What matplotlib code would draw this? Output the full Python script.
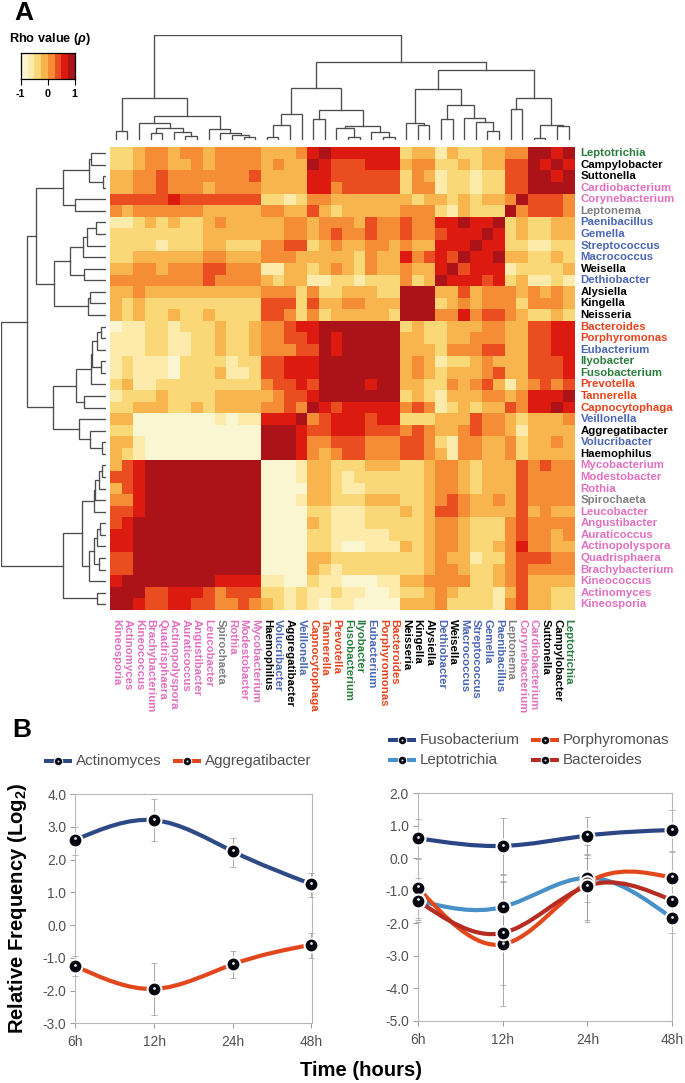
import numpy as np
import matplotlib
matplotlib.use("Agg")
import matplotlib.pyplot as plt
from matplotlib.colors import ListedColormap, BoundaryNorm
from matplotlib.path import Path
from matplotlib.patches import PathPatch

plt.rcParams['font.family'] = ['Liberation Sans', 'DejaVu Sans']
plt.rcParams['mathtext.fontset'] = 'custom'
plt.rcParams['mathtext.bf'] = 'Liberation Sans:bold'
plt.rcParams['mathtext.rm'] = 'Liberation Sans'
plt.rcParams['mathtext.it'] = 'Liberation Sans:italic:bold'

W, H = 685, 1083

# column order, left to right. the rows are the same list read bottom to top
genera = ['Kineosporia', 'Actinomyces', 'Kineococcus', 'Brachybacterium', 'Quadrisphaera',
          'Actinopolyspora', 'Auraticoccus', 'Angustibacter', 'Leucobacter', 'Spirochaeta',
          'Rothia', 'Modestobacter', 'Mycobacterium', 'Haemophilus', 'Volucribacter',
          'Aggregatibacter', 'Veillonella', 'Capnocytophaga', 'Tannerella', 'Prevotella',
          'Fusobacterium', 'Ilyobacter', 'Eubacterium', 'Porphyromonas', 'Bacteroides',
          'Neisseria', 'Kingella', 'Alysiella', 'Dethiobacter', 'Weisella', 'Macrococcus',
          'Streptococcus', 'Gemella', 'Paenibacillus', 'Leptonema', 'Corynebacterium',
          'Cardiobacterium', 'Suttonella', 'Campylobacter', 'Leptotrichia']

pink = '#E36FC0'
grey = '#7F7F7F'
black = '#000000'
blue = '#4A66B5'
red = '#E8431C'
green = '#2A7D3C'
genus_colors = [pink, pink, pink, pink, pink, pink, pink, pink, pink, grey,
                pink, pink, pink, black, blue, black, blue, red, red, red,
                green, green, blue, red, red, black, black, black, blue, black,
                blue, blue, blue, blue, grey, pink, pink, black, black, green]

# binned rho, one digit per cell (0 = -1 ... 7 = +1), top row first
rho_bins = [
    "2 2 3 4 4 3 4 4 3 4 4 4 4 3 3 3 4 6 7 6 6 6 6 6 6 2 3 3 1 3 2 2 3 3 4 4 7 7 6 7",
    "2 2 3 4 4 3 3 4 3 4 4 4 4 3 4 3 3 7 6 5 5 5 6 6 6 3 4 4 2 2 3 2 3 3 5 5 7 6 7 6",
    "3 3 4 4 5 4 4 4 4 4 4 4 5 3 3 3 3 6 6 5 5 5 5 5 5 2 4 3 1 2 2 1 2 2 5 5 7 7 6 7",
    "3 3 4 4 5 4 4 4 3 4 4 4 4 3 3 3 3 6 6 4 5 5 5 5 5 2 4 4 1 2 2 1 2 2 5 5 7 7 7 7",
    "5 5 5 5 5 6 5 5 5 5 5 5 5 2 2 1 2 4 4 3 3 3 3 3 3 3 2 3 3 2 3 2 3 3 4 7 5 5 5 4",
    "4 3 4 4 4 4 4 4 3 3 3 3 3 4 4 3 3 5 3 2 3 3 3 3 3 4 4 4 2 1 3 2 2 2 7 4 5 5 5 4",
    "1 1 2 3 2 3 2 2 3 4 3 3 3 3 3 4 4 3 4 4 4 3 5 4 4 5 4 4 6 6 7 6 6 7 2 3 2 2 3 3",
    "2 2 2 2 2 2 2 2 3 3 3 3 3 3 3 4 4 3 4 5 4 4 5 4 4 5 4 4 5 6 6 6 7 6 2 3 2 2 3 3",
    "2 2 2 2 1 2 2 2 3 3 2 2 2 4 4 5 5 2 3 4 3 3 4 4 3 4 3 3 6 6 6 7 6 6 2 2 1 1 2 2",
    "2 2 3 3 3 3 3 3 4 4 3 3 3 4 4 4 3 3 3 3 3 2 4 3 3 6 4 5 6 5 7 6 6 7 3 3 2 2 3 2",
    "3 3 4 4 3 4 4 4 5 5 4 4 4 1 1 3 3 2 3 4 3 2 4 3 3 4 3 3 6 7 5 6 6 6 1 2 2 2 2 3",
    "4 4 4 4 4 4 4 4 5 4 4 4 4 3 2 3 3 1 1 2 2 1 2 2 2 4 2 3 7 6 6 6 5 6 2 3 1 1 2 1",
    "3 3 4 3 3 3 3 3 3 3 3 3 3 4 4 4 2 4 2 2 3 3 3 2 2 7 7 7 3 3 5 3 4 4 4 3 4 3 4 3",
    "3 2 3 2 2 2 2 2 2 2 2 2 2 5 5 5 2 5 3 3 4 4 3 3 3 7 7 7 2 3 4 3 4 4 4 2 4 4 4 3",
    "3 2 3 2 2 3 2 2 3 2 2 2 2 5 5 4 2 4 2 3 3 3 3 3 2 7 7 7 4 4 6 4 5 5 4 3 2 2 3 2",
    "0 1 1 2 2 1 2 2 2 3 2 2 3 4 4 5 6 6 7 7 7 7 7 7 7 2 3 2 2 3 3 3 4 4 3 3 5 5 6 6",
    "1 1 1 2 2 1 1 2 2 3 2 2 3 4 4 5 5 6 7 6 7 7 7 7 7 3 3 2 2 3 3 4 4 4 3 3 5 5 6 6",
    "1 1 1 2 2 1 1 2 2 3 2 2 3 4 4 4 5 5 7 6 7 7 7 7 7 3 3 3 2 4 4 4 5 5 3 3 5 5 6 6",
    "1 2 1 1 1 0 2 2 2 2 1 2 2 5 5 6 6 6 7 7 7 7 7 7 7 3 4 3 1 2 2 3 4 3 3 3 5 5 5 6",
    "1 2 1 1 1 0 2 2 2 3 1 1 2 5 5 6 6 6 7 7 7 7 7 7 7 3 4 3 2 3 3 3 4 5 3 3 5 5 5 6",
    "2 3 1 1 2 2 2 2 2 2 2 2 2 4 5 5 6 5 7 7 7 7 6 7 7 3 3 2 2 4 3 4 5 3 1 3 4 5 4 5",
    "1 2 2 2 3 2 2 2 2 3 3 3 3 3 4 5 5 6 7 7 7 7 7 7 7 2 3 2 1 3 3 3 4 4 3 4 6 6 6 7",
    "2 2 3 3 3 2 2 3 2 3 3 3 3 4 4 5 4 7 6 5 6 6 6 6 6 4 5 4 1 2 3 2 3 3 5 4 6 6 7 6",
    "3 3 0 0 0 0 0 0 0 1 0 1 1 6 6 6 7 4 5 6 6 6 5 6 6 2 2 2 3 3 3 5 4 4 3 2 3 3 3 4",
    "2 2 0 0 0 0 0 0 0 0 0 0 0 7 7 7 6 5 5 6 6 6 5 5 5 4 5 4 3 3 4 5 4 4 3 1 3 3 3 3",
    "3 3 1 0 0 0 0 0 0 0 0 0 0 7 7 7 6 4 4 5 5 5 4 4 4 5 5 4 2 1 4 4 3 3 4 2 3 3 4 3",
    "3 2 1 0 0 0 0 0 0 0 0 0 0 7 7 7 6 4 3 4 5 5 4 4 4 5 5 4 3 1 4 4 3 3 4 2 3 3 3 3",
    "3 5 6 7 7 7 7 7 7 7 7 7 7 0 0 0 1 3 3 2 2 2 3 3 3 2 2 3 4 4 3 2 3 3 3 5 4 5 4 4",
    "5 5 6 7 7 7 7 7 7 7 7 7 7 0 0 0 1 3 3 2 1 2 2 2 2 2 2 3 4 4 3 2 3 3 3 5 4 4 4 4",
    "3 5 6 7 7 7 7 7 7 7 7 7 7 0 0 0 0 3 3 2 1 1 2 2 2 2 2 3 4 4 3 2 3 3 3 5 4 4 4 4",
    "4 4 6 7 7 7 7 7 7 7 7 7 7 0 0 0 1 3 3 2 2 2 3 3 3 2 2 3 4 5 4 3 3 4 3 5 4 4 4 4",
    "5 5 6 7 7 7 7 7 7 7 7 7 7 0 0 0 0 2 2 1 1 1 2 2 2 3 2 3 5 5 4 3 3 3 3 5 3 4 3 3",
    "5 6 7 7 7 7 7 7 7 7 7 7 7 0 0 0 0 3 2 1 1 1 2 2 2 2 2 3 4 4 3 2 2 2 4 5 4 4 4 4",
    "6 6 7 7 7 7 7 7 7 7 7 7 7 0 0 0 0 2 2 1 1 1 1 1 2 2 2 3 4 4 3 2 2 2 4 5 4 4 3 4",
    "6 6 7 7 7 7 7 7 7 7 7 7 7 0 0 0 0 2 2 1 0 0 1 1 1 3 2 3 4 4 3 2 2 3 4 6 4 4 3 3",
    "5 5 7 7 7 7 7 7 7 7 7 7 7 0 0 0 0 3 3 2 2 2 2 2 2 2 2 3 4 3 3 1 2 2 4 5 5 5 4 4",
    "5 5 7 7 7 7 7 7 7 7 7 7 7 0 0 0 0 3 2 1 2 2 2 2 2 2 2 3 4 4 3 2 2 3 4 5 4 4 4 4",
    "6 7 7 7 7 7 7 7 7 6 6 6 6 1 1 0 0 2 1 1 0 0 0 1 1 3 3 4 4 4 4 2 2 3 4 5 3 3 3 3",
    "7 7 7 5 5 6 6 6 5 4 5 5 5 2 2 1 2 1 1 2 1 1 0 0 1 2 2 3 4 3 2 2 2 1 3 5 3 3 2 2",
    "7 7 6 5 5 6 6 5 5 4 4 5 4 3 2 1 2 1 0 1 1 0 0 0 0 3 3 3 4 2 2 2 2 1 4 5 3 3 2 2",
]
bin_colors = ['#FBF6D2', '#FDEBAC', '#FAD878', '#F8B54E', '#F48D36', '#EA4E20', '#DC1A10', '#AB1319']

# dendrograms: (merge distance, left, right), leaves are column / row numbers
col_tree = (105,
            (42, (9, 0, 1),
             (24, (17, 2, (12, (7, 3, 4), (8, 5, (4, 6, 7)))),
              (11, 8, (7, 9, (5, 10, (3, 11, 12)))))),
            (78,
             (52, (26, (15, (3, 13, 14), 15), 16),
              (30, (21, 17, 18),
               (14, (12, 19, (3, 20, 21)), (8, 22, (3, 23, 24))))),
             (70,
              (51, (17, 25, (15, 26, 27)),
               (35, (21, 28, 29), (22, 30, (18, 31, (9, 32, 33))))),
              (42, (31, 34, 35), (15, (2, 36, 37), (14, 38, 39))))))
row_tree = (105,
            (79,
             (70,
              (43, (17, (15, 0, 1), (3, 2, 3)), (31, 4, 5)),
              (52, (36, (23, (19, (10, 6, 7), 8), 9), (22, 10, 11)),
               (18, (16, 12, 13), 14))),
             (53,
              (30, (15, (14, (9, (5, 15, 16), 17), (5, 18, 19)), 20), (22, 21, 22)),
              (27, 23, (16, 24, (4, 25, 26))))),
            (43,
             (24,
              (12, (11, (7, (4, 27, 28), 29), 30), 31),
              (17, (12, (9, (6, 32, 33), 34), (7, 35, 36)), 37)),
             (9, 38, 39)))

# panel B
hours = ['6h', '12h', '24h', '48h']

actinomyces = [2.6, 3.2, 2.25, 1.25]
actinomyces_low = [2.15, 2.55, 1.78, 0.85]
actinomyces_high = [3.0, 3.85, 2.65, 1.6]
aggregatibacter = [-1.25, -1.95, -1.2, -0.6]
aggregatibacter_low = [-1.55, -2.75, -1.62, -1.0]
aggregatibacter_high = [-0.95, -1.15, -0.78, -0.25]

fusobacterium = [0.62, 0.38, 0.7, 0.87]
fusobacterium_low = [-0.02, -0.48, 0.12, 0.22]
fusobacterium_high = [1.22, 1.25, 1.28, 1.48]
porphyromonas = [-0.9, -2.65, -0.75, -0.6]
porphyromonas_low = [-1.9, -4.55, -1.9, -1.3]
porphyromonas_high = [0.02, -0.72, 0.4, 0.18]
leptotrichia = [-1.3, -1.5, -0.6, -1.85]
leptotrichia_low = [-1.85, -2.5, -1.35, -2.3]
leptotrichia_high = [-0.6, -0.5, 0.1, -1.4]
bacteroides = [-1.3, -2.3, -0.85, -1.3]
bacteroides_low = [-1.95, -3.9, -1.95, -2.0]
bacteroides_high = [-0.7, -0.7, 0.0, -0.6]


def axes_px(fig, x0, y0, x1, y1):
    return fig.add_axes([x0 / W, 1 - y1 / H, (x1 - x0) / W, (y1 - y0) / H])


def draw_tree(ax, node, vertical):
    # returns leaf-axis position and distance of the node
    if not isinstance(node, tuple):
        return node + 0.5, 0
    d, left, right = node
    pa, da = draw_tree(ax, left, vertical)
    pb, db = draw_tree(ax, right, vertical)
    if vertical:
        ax.plot([pa, pa, pb, pb], [da, d, d, db], color='#4D4D4D', lw=0.95, solid_joinstyle='miter')
    else:
        ax.plot([da, d, d, db], [pa, pa, pb, pb], color='#4D4D4D', lw=0.95, solid_joinstyle='miter')
    return (pa + pb) / 2, d


def smooth_path(y):
    # natural spline through the points, written as bezier segments
    n = len(y)
    A = np.zeros((n, n))
    b = np.zeros(n)
    A[0, 0] = A[-1, -1] = 1
    for i in range(1, n - 1):
        A[i, i - 1], A[i, i], A[i, i + 1] = 1, 4, 1
        b[i] = 6 * (y[i - 1] - 2 * y[i] + y[i + 1])
    M = np.linalg.solve(A, b)
    slope = [y[i + 1] - y[i] - (2 * M[i] + M[i + 1]) / 6 for i in range(n - 1)]
    slope.append(y[-1] - y[-2] + (M[-2] + 2 * M[-1]) / 6)
    verts = [(0, y[0])]
    codes = [Path.MOVETO]
    for i in range(n - 1):
        verts.append((i + 1 / 3, y[i] + slope[i] / 3))
        verts.append((i + 2 / 3, y[i + 1] - slope[i + 1] / 3))
        verts.append((i + 1, y[i + 1]))
        codes += [Path.CURVE4, Path.CURVE4, Path.CURVE4]
    return Path(verts, codes)


def draw_bullet(ax, x, y, z, size=10):
    ax.plot(x, y, 'o', ms=size, mfc='#050510', mec='white', mew=1.5, clip_on=False, zorder=z)
    ax.plot(x, np.array(y) + (ax.get_ylim()[1] - ax.get_ylim()[0]) * 0.006, 'o', ms=size * 0.2, mfc='#E8E8E8',
            mec='none', clip_on=False, zorder=z + 0.01)


def draw_series(ax, y, low, high, color, z):
    x = np.arange(len(y))
    y = np.array(y)
    ax.errorbar(x, y, yerr=[y - np.array(low), np.array(high) - y], fmt='none', ecolor='#9A9A9A',
                elinewidth=0.6, capsize=2.4, capthick=0.5, clip_on=False, zorder=2)
    ax.add_patch(PathPatch(smooth_path(y), fc='none', ec=color, lw=3.0, capstyle='butt', zorder=3))
    draw_bullet(ax, x, y, z)


def style_panel(ax, ymin, ymax):
    ax.set_xlim(0, 3)
    ax.set_ylim(ymin, ymax)
    ticks = np.arange(ymin, ymax + 1)
    ax.set_yticks(ticks)
    ax.set_yticklabels(['%.1f' % t for t in ticks])
    ax.set_xticks(range(4))
    ax.set_xticklabels(hours)
    ax.tick_params(labelsize=9.9, labelcolor='#505050', color='#999999', length=3.5, width=0.7, pad=3)
    ax.tick_params(axis='x', pad=5)
    for s in ax.spines.values():
        s.set_color('#B8B8B8')
        s.set_linewidth(0.8)


def legend_item(bg, x, y, label, color):
    bg.plot([x, x + 28], [y, y], color=color, lw=2.9, solid_capstyle='butt')
    bg.plot(x + 14, y, 'o', ms=6.8, mfc='white', mec='none')
    bg.plot(x + 14, y, 'o', ms=5.4, mfc='#0A0A14', mec='none')
    bg.plot(x + 14, y, 'o', ms=1.4, mfc='#E0E0E0', mec='none')
    bg.text(x + 32, y + 0.3, label, fontsize=10.9, color='#505050', va='center', ha='left')


fig = plt.figure(figsize=(W / 100, H / 100), dpi=100)

# page level text and legends in pixel coordinates
bg = fig.add_axes([0, 0, 1, 1])
bg.set_xlim(0, W)
bg.set_ylim(H, 0)
bg.axis('off')

# heatmap
hm_x0, hm_x1, hm_y0, hm_y1 = 110, 574.5, 147.3, 610
ax_hm = axes_px(fig, hm_x0, hm_y0, hm_x1, hm_y1)
rho = np.array([[int(v) for v in row.split()] for row in rho_bins])
cmap = ListedColormap(bin_colors)
norm = BoundaryNorm(np.arange(-0.5, 8.5), 8)
ax_hm.pcolormesh(np.arange(41), np.arange(41), rho, cmap=cmap, norm=norm)
ax_hm.set_xlim(0, 40)
ax_hm.set_ylim(40, 0)
ax_hm.axis('off')

# genus labels
cell_w = (hm_x1 - hm_x0) / 40
cell_h = (hm_y1 - hm_y0) / 40
for i, (name, c) in enumerate(zip(genera, genus_colors)):
    bg.text(hm_x0 + cell_w * (i + 0.5), 619, name, rotation=270, color=c, fontsize=8.2,
            fontweight='bold', ha='center', va='top')
    bg.text(580.5, hm_y0 + cell_h * (39 - i + 0.5), name, color=c, fontsize=8.2,
            fontweight='bold', ha='left', va='center')

# dendrograms
ax_top = axes_px(fig, hm_x0, 35, hm_x1, 140)
draw_tree(ax_top, col_tree, True)
ax_top.set_xlim(0, 40)
ax_top.set_ylim(0, 105)
ax_top.axis('off')

ax_left = axes_px(fig, 1, hm_y0, 106, hm_y1)
draw_tree(ax_left, row_tree, False)
ax_left.set_xlim(105, 0)
ax_left.set_ylim(40, 0)
ax_left.axis('off')

# rho key
ax_key = axes_px(fig, 20.5, 53, 74.5, 79)
ax_key.imshow(np.arange(8)[None, :], cmap=cmap, norm=norm, aspect='auto', extent=[-1, 1, 0, 1])
ax_key.set_yticks([])
ax_key.set_xticks([-1, 0, 1])
ax_key.set_xticklabels(['-1', '0', '1'], fontsize=7.8, fontweight='bold')
ax_key.tick_params(length=4, width=0.8, pad=3.5)
for s in ax_key.spines.values():
    s.set_linewidth(0.9)
bg.text(9, 42, r'Rho value ($\rho$)', fontsize=9.2, fontweight='bold', va='baseline', ha='left')

bg.text(14, 20.5, 'A', fontsize=19, fontweight='bold', va='baseline', ha='left')
bg.text(12, 737, 'B', fontsize=19, fontweight='bold', va='baseline', ha='left')

# panel B left
ax_l = axes_px(fig, 75.3, 794, 311.5, 1023.3)
style_panel(ax_l, -3, 4)
draw_series(ax_l, actinomyces, actinomyces_low, actinomyces_high, '#2D4A87', 5)
draw_series(ax_l, aggregatibacter, aggregatibacter_low, aggregatibacter_high, '#E2461C', 6)

# panel B right
ax_r = axes_px(fig, 417.7, 793.3, 672.3, 1020.7)
style_panel(ax_r, -5, 2)
draw_series(ax_r, fusobacterium, fusobacterium_low, fusobacterium_high, '#2B4585', 5)
draw_series(ax_r, leptotrichia, leptotrichia_low, leptotrichia_high, '#4890C8', 6)
draw_series(ax_r, porphyromonas, porphyromonas_low, porphyromonas_high, '#E2481C', 7)
draw_series(ax_r, bacteroides, bacteroides_low, bacteroides_high, '#B62B22', 8)

legend_item(bg, 44, 761, 'Actinomyces', '#2D4A87')
legend_item(bg, 173, 761, 'Aggregatibacter', '#E2461C')
legend_item(bg, 388, 740, 'Fusobacterium', '#2B4585')
legend_item(bg, 531, 740, 'Porphyromonas', '#E2481C')
legend_item(bg, 388, 759.5, 'Leptotrichia', '#4890C8')
legend_item(bg, 531, 759.5, 'Bacteroides', '#B62B22')

bg.text(18, 908, r'Relative Frequency (Log$_{\mathbf{2}}$)', rotation=90, fontsize=14.6, fontweight='bold',
        ha='center', va='center')
bg.text(361, 1071, 'Time (hours)', fontsize=14.6, fontweight='bold', ha='center', va='center')

fig.savefig('out.png', dpi=100)
